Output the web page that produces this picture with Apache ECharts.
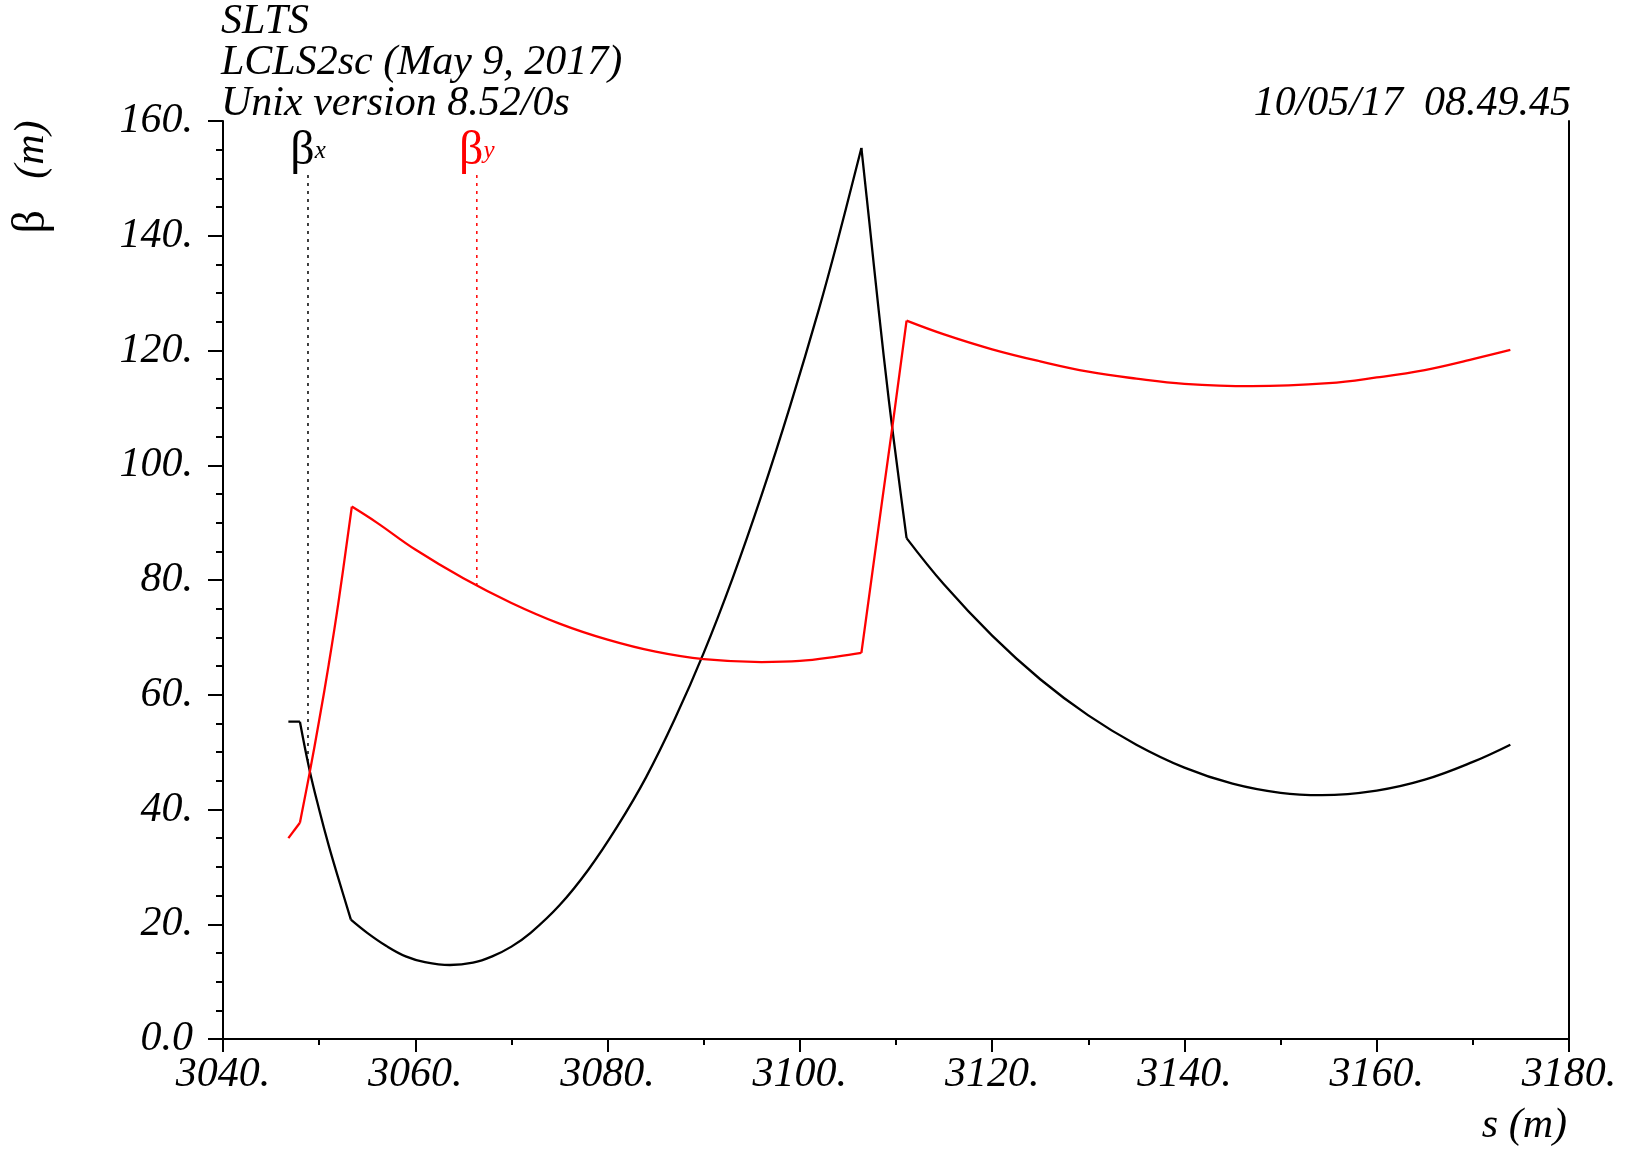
<!DOCTYPE html>
<html>
<head>
<meta charset="utf-8">
<title>SLTS beta functions</title>
<script src="https://cdn.jsdelivr.net/npm/echarts@6/dist/echarts.min.js"></script>
<style>
    html, body { margin: 0; padding: 0; background: #fff; }
    #main { width: 1627px; height: 1153px; }
</style>
</head>
<body>
<div id="main"></div>
<script>
    'use strict';

    // beta x (black)
    var betaXs = [3046.8, 3048.0, 3049.0, 3050.0, 3051.0, 3052.0, 3053.3, 3055, 3057, 3059, 3061, 3063.6,
        3066, 3068, 3070, 3072, 3075, 3078, 3081, 3084, 3087, 3090, 3093, 3096, 3099, 3102, 3104,
        3106.4, 3107.2, 3108.2, 3109.25, 3110.2, 3111.1, 3115, 3120, 3125, 3130, 3135, 3140, 3145,
        3150, 3154.3, 3160, 3165, 3170, 3173.9];
    var betaX = [55.3, 55.3, 46.9, 40.0, 33.7, 28.0, 20.8, 18.5, 16.2, 14.4, 13.4, 12.9,
        13.3, 14.4, 16.1, 18.5, 23.3, 29.5, 37.0, 45.6, 55.8, 67.3, 80.3, 94.7, 110.4, 127.3, 139.6,
        155.3, 142.8, 127.0, 111.4, 98.8, 87.3, 79.2, 70.3, 62.7, 56.4, 51.3, 47.3, 44.5,
        42.9, 42.5, 43.3, 45.2, 48.3, 51.3];
    var kinksX = [3048.0, 3053.3, 3106.4, 3111.1];

    // beta y (red)
    var betaYs = [3046.8, 3048.0, 3049.0, 3050.0, 3051.0, 3052.0, 3053.4, 3056, 3060, 3065, 3070, 3075,
        3080, 3085, 3090, 3096, 3100, 3104, 3106.4, 3107.5, 3108.6, 3109.5, 3110.0, 3111.1, 3115, 3120,
        3125, 3130, 3135, 3140, 3147, 3155, 3160, 3165, 3170, 3173.9];
    var betaY = [35.0, 37.7, 46.3, 55.5, 65.3, 76.0, 92.8, 90.0, 85.3, 80.3, 76.0, 72.4,
        69.6, 67.5, 66.2, 65.7, 65.9, 66.7, 67.3, 80.8, 94.3, 105.2, 111.4, 125.2, 122.8, 120.2,
        118.1, 116.3, 115.1, 114.2, 113.8, 114.3, 115.3, 116.6, 118.5, 120.1];
    var kinksY = [3048.0, 3053.4, 3106.4, 3111.1];

    // dotted label leaders: [s, top, bottom]
    var leaderX = [3048.84, 150.6, 48.5];
    var leaderY = [3066.4, 150.6, 79.0];

    var headerLines = ['SLTS', 'LCLS2sc (May 9, 2017)', 'Unix version 8.52/0s'];
    var stamp = '10/05/17  08.49.45';

    var serif = 'Liberation Serif';
    var fs = 42;

    // split a curve at the element edges so every piece is smoothed on its own
    function pieces(xs, ys, kinks) {
        var out = [], cur = [];
        for (var i = 0; i < xs.length; i++) {
            cur.push([xs[i], ys[i]]);
            if (kinks.indexOf(xs[i]) >= 0) {
                out.push(cur);
                cur = [[xs[i], ys[i]]];
            }
        }
        out.push(cur);
        return out;
    }

    function curve(xs, ys, kinks, color) {
        return pieces(xs, ys, kinks).map(function (d) {
            return {
                type: 'line', showSymbol: false, silent: true, smooth: 0.4,
                lineStyle: {color: color, width: 2.3}, itemStyle: {color: color},
                data: d
            };
        });
    }

    function leader(l, color, sub) {
        return {
            type: 'line',
            silent: true,
            showSymbol: true,
            symbol: 'circle',
            symbolSize: 0,
            lineStyle: {color: color, width: 1.5, type: [3, 5]},
            itemStyle: {color: color},
            data: [
                {
                    value: [l[0], l[1]],
                    label: {
                        show: true,
                        position: 'top',
                        distance: 0,
                        formatter: '{b|\u03b2}{s|' + sub + '}',
                        rich: {
                            b: {fontFamily: serif, fontSize: 48, color: color, verticalAlign: 'middle'},
                            s: {fontFamily: serif, fontStyle: 'italic', fontSize: 25, color: color, verticalAlign: 'middle'}
                        }
                    }
                },
                {value: [l[0], l[2]], label: {show: false}}
            ]
        };
    }

    var tickStyle = {color: '#000', width: 2};
    var textFont = 'italic ' + fs + 'px "Liberation Serif"';

    var graphic = [];
    for (var i = 0; i < headerLines.length; i++) {
        graphic.push({
            type: 'text', x: 221, y: 22 + i * 41,
            style: {text: headerLines[i], fill: '#000', font: textFont, align: 'left', verticalAlign: 'middle'}
        });
    }
    graphic.push({
        type: 'text', x: 1571, y: 104,
        style: {text: stamp, fill: '#000', font: textFont, align: 'right', verticalAlign: 'middle'}
    });
    graphic.push({
        type: 'text', x: 1567, y: 1126,
        style: {text: 's (m)', fill: '#000', font: textFont, align: 'right', verticalAlign: 'middle'}
    });
    graphic.push({
        type: 'text', x: 32, y: 177, rotation: Math.PI / 2,
        style: {
            text: '{b|\u03b2}   {i|(m)}', align: 'center', verticalAlign: 'middle',
            fontFamily: serif, fontSize: fs,
            rich: {
                b: {fontFamily: serif, fontSize: 46, fill: '#000'},
                i: {fontFamily: serif, fontStyle: 'italic', fontSize: fs, fill: '#000'}
            }
        }
    });

    var series = [].concat(
        curve(betaXs, betaX, kinksX, '#000'),
        curve(betaYs, betaY, kinksY, '#ff0000'),
        [leader(leaderX, '#000', 'x'), leader(leaderY, '#ff0000', 'y')]
    );

    var option = {
        animation: false,
        backgroundColor: '#fff',
        grid: {left: 223, right: 58, top: 121, bottom: 114},
        xAxis: [{
            type: 'value', min: 3040, max: 3180, interval: 20, position: 'bottom',
            axisLine: {lineStyle: tickStyle},
            axisTick: {length: 13, lineStyle: tickStyle},
            minorTick: {show: true, splitNumber: 2, length: 6, lineStyle: tickStyle},
            splitLine: {show: false},
            axisLabel: {
                margin: 15, color: '#000', fontFamily: serif, fontStyle: 'italic', fontSize: fs,
                showMinLabel: true, showMaxLabel: true,
                formatter: function (v) { return v + '.'; }
            }
        }, {
            type: 'value', min: 3040, max: 3180, interval: 20, position: 'top',
            axisLine: {lineStyle: tickStyle},
            axisTick: {inside: true, length: 13, lineStyle: tickStyle},
            minorTick: {show: true, splitNumber: 2, length: 6, lineStyle: tickStyle},
            splitLine: {show: false},
            axisLabel: {show: false}
        }],
        yAxis: [{
            type: 'value', min: 0, max: 160, interval: 20, position: 'left',
            axisLine: {show: true, lineStyle: tickStyle},
            axisTick: {show: true, length: 15, lineStyle: tickStyle},
            minorTick: {show: true, splitNumber: 4, length: 7, lineStyle: tickStyle},
            splitLine: {show: false},
            axisLabel: {
                margin: 30, color: '#000', fontFamily: serif, fontStyle: 'italic', fontSize: fs,
                formatter: function (v) { return v === 0 ? '0.0' : v + '.'; }
            }
        }, {
            type: 'value', min: 0, max: 160, interval: 20, position: 'right',
            axisLine: {show: true, lineStyle: tickStyle},
            axisTick: {show: false},
            splitLine: {show: false},
            axisLabel: {show: false}
        }],
        graphic: graphic,
        series: series
    };

    var chart = echarts.init(document.getElementById('main'));
    chart.setOption(option);
</script>
</body>
</html>
